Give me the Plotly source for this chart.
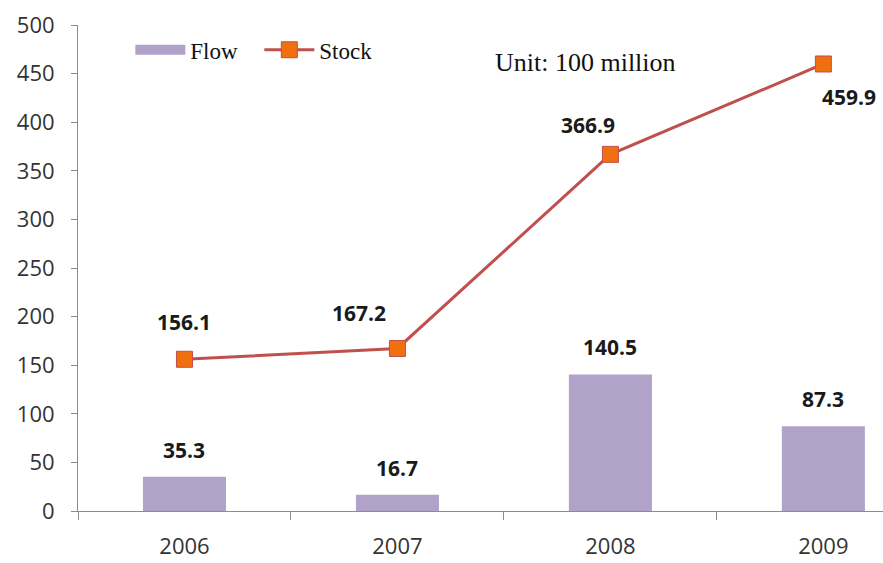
import plotly.graph_objects as go

years = ["2006", "2007", "2008", "2009"]
flow = [35.3, 16.7, 140.5, 87.3]
stock = [156.1, 167.2, 366.9, 459.9]
y_ticks = [0, 50, 100, 150, 200, 250, 300, 350, 400, 450, 500]

stock_shift = [(0, 37), (-38, 35), (-22, 29), (26, -33)]

BAR_COLOR = "#b1a2c9"

fig = go.Figure()
fig.add_trace(go.Bar(
    x=years, y=flow, name="Flow", width=0.39, showlegend=False,
    marker=dict(color=BAR_COLOR, line=dict(width=0)),
))
# legend-only entry to get a wide rectangular swatch for Flow
fig.add_trace(go.Scatter(
    x=[None], y=[None], name="Flow", mode="lines",
    line=dict(color=BAR_COLOR, width=14),
))
fig.add_trace(go.Scatter(
    x=years, y=stock, name="Stock", mode="lines+markers",
    line=dict(color="#c0504d", width=3),
    marker=dict(symbol="square", size=16, color="#f07010",
                line=dict(color="#c0504d", width=1)),
))

label_font = dict(family="Open Sans", size=21, color="#1a1a1a")
annotations = []
for i, v in enumerate(flow):
    annotations.append(dict(x=i, y=v, text=f"<b>{v:.1f}</b>", showarrow=False,
                            yshift=27, xshift=0, font=label_font,
                            xref="x", yref="y"))
for i, (v, (dx, dy)) in enumerate(zip(stock, stock_shift)):
    annotations.append(dict(x=i, y=v, text=f"<b>{v:.1f}</b>", showarrow=False,
                            xshift=dx, yshift=dy, font=label_font,
                            xref="x", yref="y"))
annotations.append(dict(x=0.516, y=0.923, xref="paper", yref="paper",
                        text="Unit: 100 million", showarrow=False,
                        xanchor="left", yanchor="middle",
                        font=dict(family="Liberation Serif", size=26, color="#111111")))

fig.update_layout(
    width=883, height=563,
    margin=dict(l=78, r=0, t=25, b=52),
    plot_bgcolor="white", paper_bgcolor="white",
    showlegend=True,
    legend=dict(orientation="h", x=0.065, y=0.949, xanchor="left", yanchor="middle",
                font=dict(family="Liberation Serif", size=23, color="#111111"),
                bgcolor="rgba(0,0,0,0)", entrywidth=64, entrywidthmode="pixels",
                itemwidth=50, tracegroupgap=0),
    annotations=annotations,
    bargap=0.6,
)
fig.update_xaxes(
    type="category", range=[-0.5, 3.28],
    showline=True, linecolor="#8c8c8c", linewidth=1,
    ticks="outside", tickson="boundaries", ticklen=8, tickcolor="#8c8c8c",
    showgrid=False, zeroline=False, ticklabelstandoff=16,
    tickfont=dict(family="Open Sans", size=22, color="#333333"),
)
fig.update_yaxes(
    range=[0, 500], tickvals=y_ticks,
    showline=True, linecolor="#8c8c8c", linewidth=1,
    ticks="outside", ticklen=6, tickcolor="#8c8c8c",
    showgrid=False, zeroline=False, ticklabelstandoff=12,
    tickfont=dict(family="Open Sans", size=22, color="#333333"),
)

fig.write_html("out.html")
